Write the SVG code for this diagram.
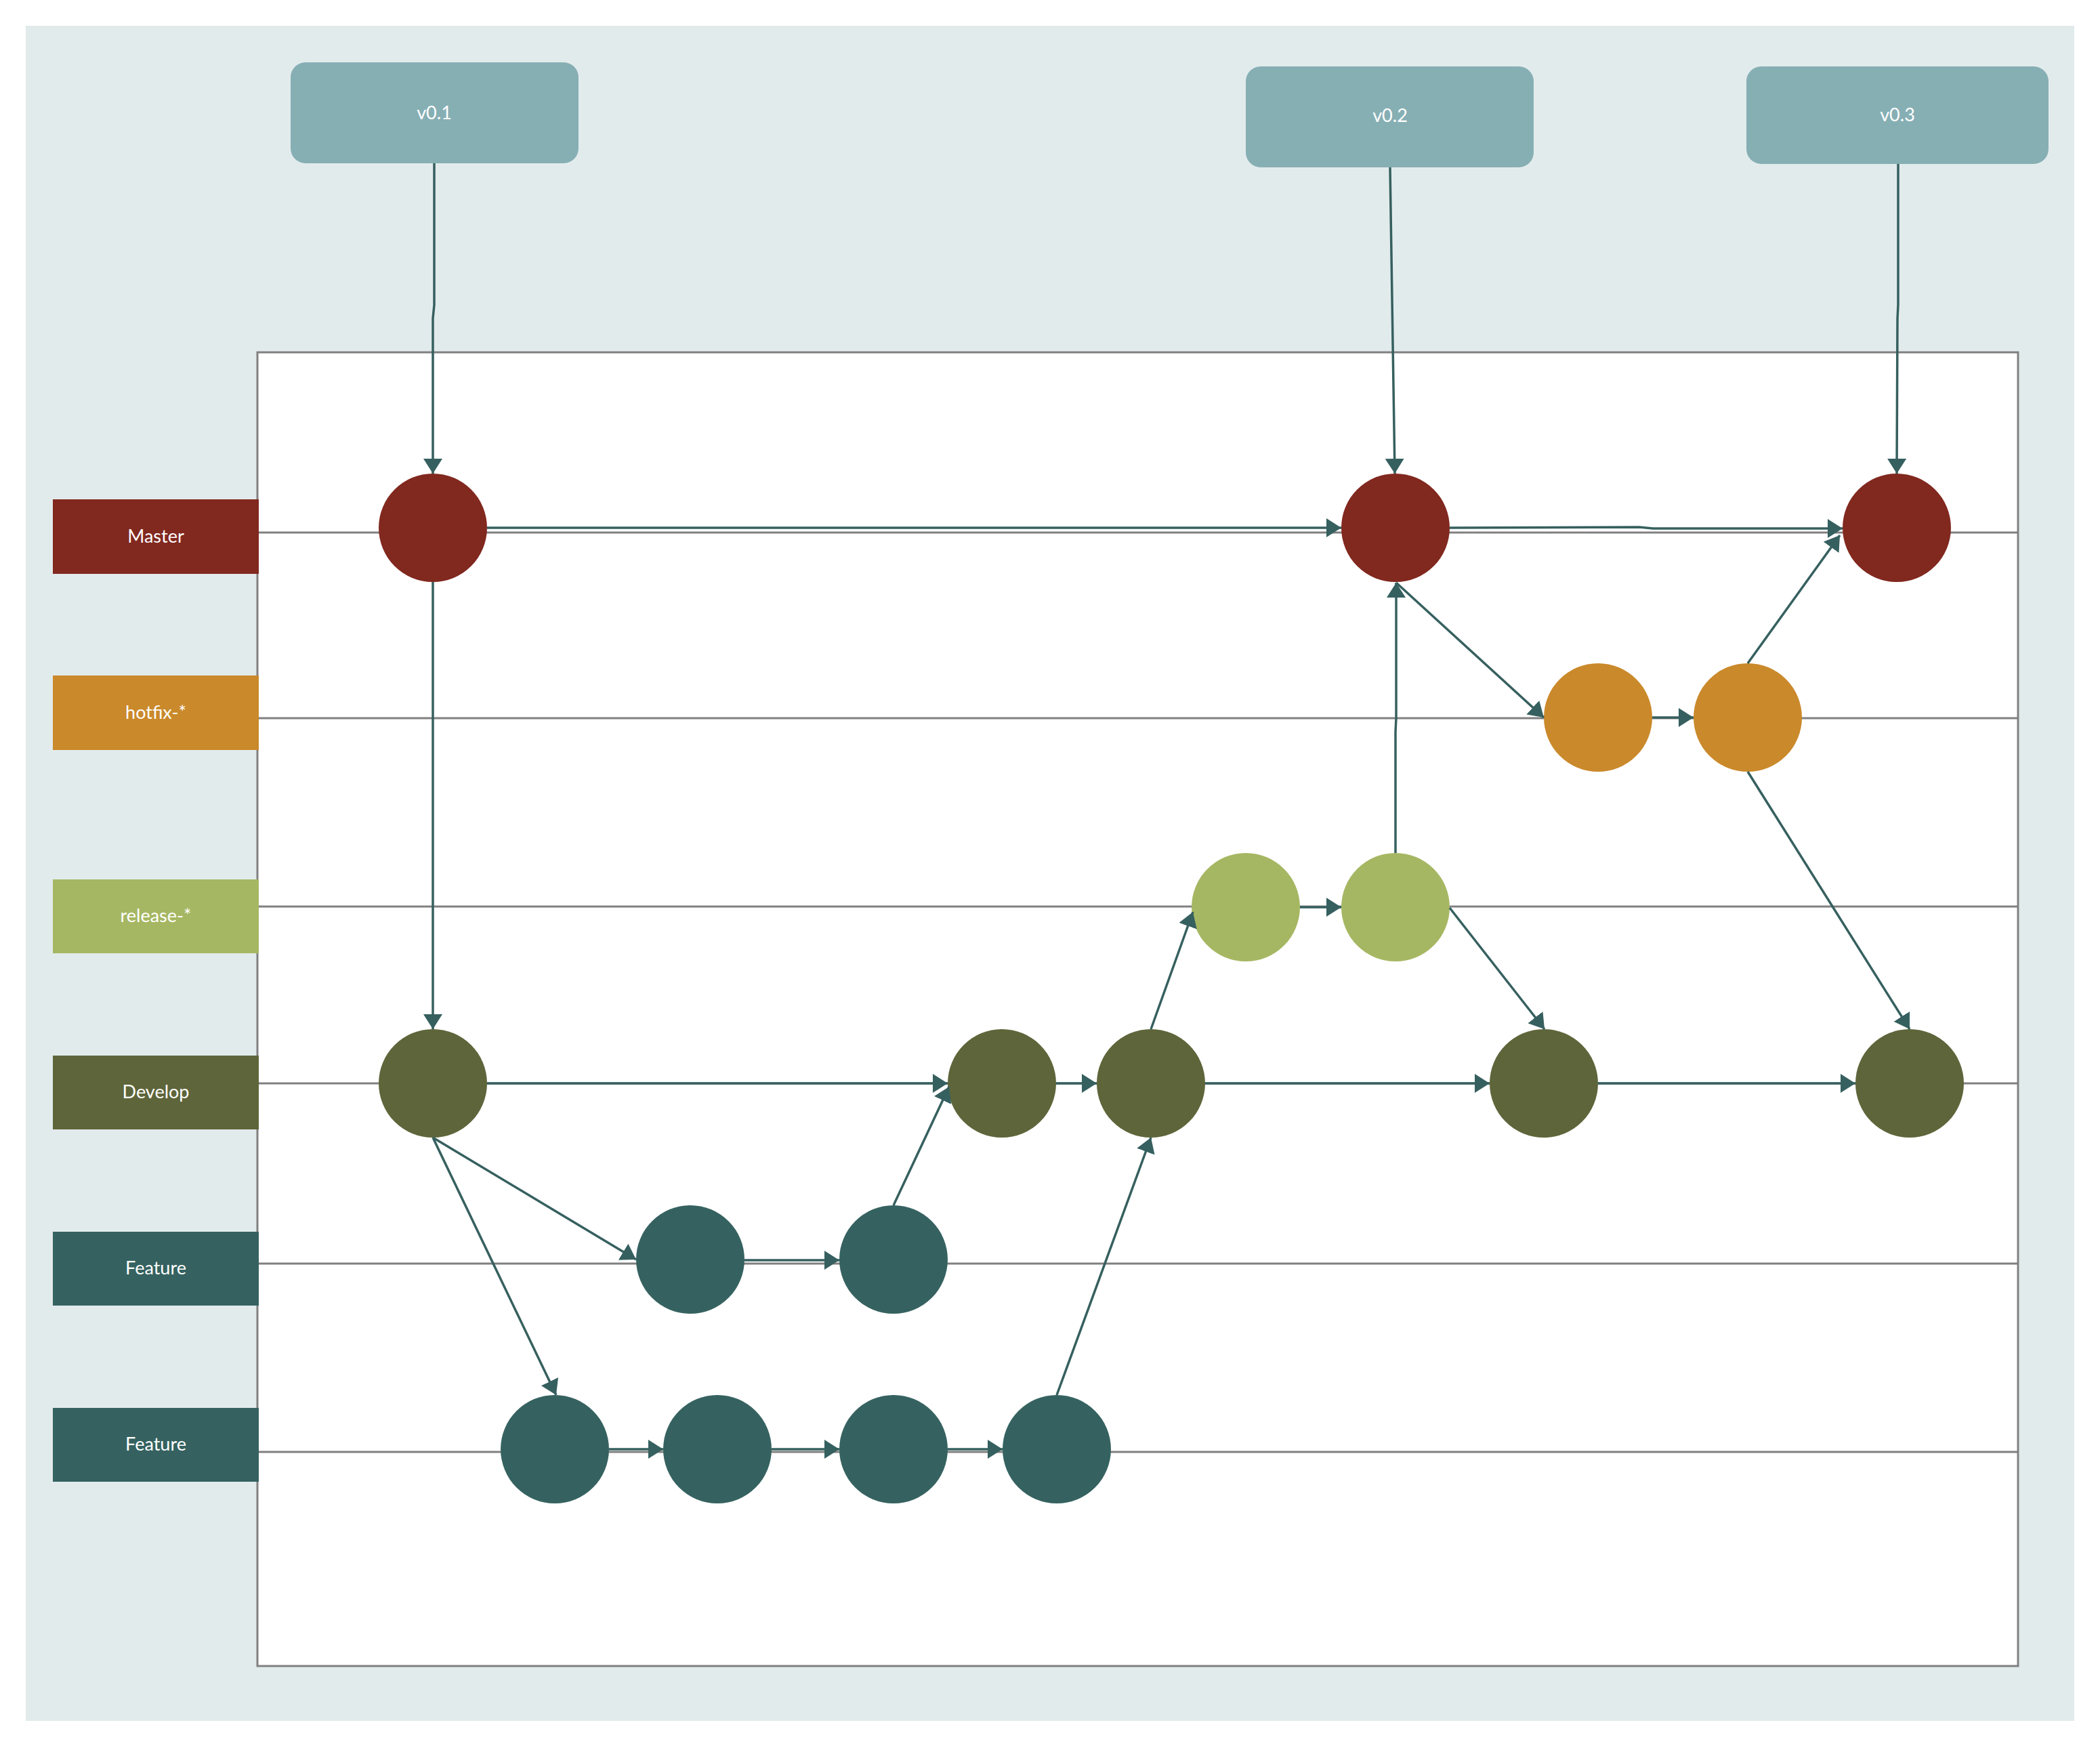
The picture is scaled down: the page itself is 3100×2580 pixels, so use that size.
<svg xmlns="http://www.w3.org/2000/svg" width="3100" height="2580" viewBox="0 0 3100 2580">
<defs>
<style>
.lane{stroke:#808080;stroke-width:3;fill:none}
.lbl{font-family:Lato,"Open Sans","Liberation Sans",sans-serif;font-size:27px;fill:#ffffff;text-anchor:middle;dominant-baseline:central}
.ver{fill:#86AFB4}
.c{stroke:#36605F;stroke-width:3.5;fill:none;marker-end:url(#arr)}
.m{fill:#81281F}.h{fill:#CA892B}.r{fill:#A6B763}.d{fill:#5E653A}.f{fill:#356260}
</style>
<marker id="arr" viewBox="0 0 22 28" refX="22" refY="14" markerWidth="22" markerHeight="28" markerUnits="userSpaceOnUse" orient="auto">
<path d="M0,0 L22,14 L0,28 Z" fill="#36605F"/>
</marker>
</defs>
<rect x="0" y="0" width="3100" height="2580" fill="#ffffff"/>
<rect x="38" y="38" width="3024" height="2502" fill="#E2EBEC"/>
<rect x="380" y="520" width="2599" height="1939" fill="#ffffff" stroke="#808080" stroke-width="3"/>
<g id="lanes">
<line class="lane" x1="380" y1="786" x2="2979" y2="786"/>
<line class="lane" x1="380" y1="1060" x2="2979" y2="1060"/>
<line class="lane" x1="380" y1="1338" x2="2979" y2="1338"/>
<line class="lane" x1="380" y1="1599" x2="2979" y2="1599"/>
<line class="lane" x1="380" y1="1865" x2="2979" y2="1865"/>
<line class="lane" x1="380" y1="2143" x2="2979" y2="2143"/>
</g>
<g id="label-master"><rect x="78" y="737" width="304" height="110" fill="#81281F"/><text class="lbl" x="230" y="790">Master</text></g>
<g id="label-hotfix"><rect x="78" y="997" width="304" height="110" fill="#CA892B"/><text class="lbl" x="230" y="1050">hotfix-*</text></g>
<g id="label-release"><rect x="78" y="1298" width="304" height="109" fill="#A6B763"/><text class="lbl" x="230" y="1350">release-*</text></g>
<g id="label-develop"><rect x="78" y="1558" width="304" height="109" fill="#5E653A"/><text class="lbl" x="230" y="1610">Develop</text></g>
<g id="label-feature1"><rect x="78" y="1818" width="304" height="109" fill="#356260"/><text class="lbl" x="230" y="1870">Feature</text></g>
<g id="label-feature2"><rect x="78" y="2078" width="304" height="109" fill="#356260"/><text class="lbl" x="230" y="2130">Feature</text></g>
<g id="v01"><rect class="ver" x="429" y="92" width="425" height="149" rx="22"/><text class="lbl" x="641" y="165">v0.1</text></g>
<g id="v02"><rect class="ver" x="1839" y="98" width="425" height="149" rx="22"/><text class="lbl" x="2052" y="169">v0.2</text></g>
<g id="v03"><rect class="ver" x="2578" y="98" width="446" height="144" rx="22"/><text class="lbl" x="2801" y="168">v0.3</text></g>
<g id="m1"><circle class="m" cx="639" cy="779" r="80"/></g>
<g id="m2"><circle class="m" cx="2060" cy="779" r="80"/></g>
<g id="m3"><circle class="m" cx="2800" cy="779" r="80"/></g>
<g id="h1"><circle class="h" cx="2359" cy="1059" r="80"/></g>
<g id="h2"><circle class="h" cx="2580" cy="1059" r="80"/></g>
<g id="r1"><circle class="r" cx="1839" cy="1339" r="80"/></g>
<g id="r2"><circle class="r" cx="2060" cy="1339" r="80"/></g>
<g id="d1"><circle class="d" cx="639" cy="1599" r="80"/></g>
<g id="d2"><circle class="d" cx="1479" cy="1599" r="80"/></g>
<g id="d3"><circle class="d" cx="1699" cy="1599" r="80"/></g>
<g id="d4"><circle class="d" cx="2279" cy="1599" r="80"/></g>
<g id="d5"><circle class="d" cx="2819" cy="1599" r="80"/></g>
<g id="fa1"><circle class="f" cx="1019" cy="1859" r="80"/></g>
<g id="fa2"><circle class="f" cx="1319" cy="1859" r="80"/></g>
<g id="fb1"><circle class="f" cx="819" cy="2139" r="80"/></g>
<g id="fb2"><circle class="f" cx="1059" cy="2139" r="80"/></g>
<g id="fb3"><circle class="f" cx="1319" cy="2139" r="80"/></g>
<g id="fb4"><circle class="f" cx="1560" cy="2139" r="80"/></g>
<g id="connectors">
<path class="c" d="M641,241 L641,450 L639,470 L639,699"/>
<path class="c" d="M2052,247 L2059,699"/>
<path class="c" d="M2802,242 L2802,450 L2801,470 L2800,699"/>
<path class="c" d="M719,779 L1980,779"/>
<path class="c" d="M2140,779 L2420,778 L2440,780 L2720,780"/>
<path class="c" d="M639,859 L639,1519"/>
<path class="c" d="M2061,860 L2279,1059"/>
<path class="c" d="M2439,1059 L2500,1059"/>
<path class="c" d="M2580,979 L2716,790"/>
<path class="c" d="M2580,1139 L2819,1519"/>
<path class="c" d="M2060,1259 L2060,1080 L2061,1060 L2061,860"/>
<path class="c" d="M1919,1339 L1980,1339"/>
<path class="c" d="M2140,1340 L2280,1519"/>
<path class="c" d="M1699,1519 L1761,1346"/>
<path class="c" d="M719,1599 L1399,1599"/>
<path class="c" d="M1559,1599 L1619,1599"/>
<path class="c" d="M1779,1599 L2199,1599"/>
<path class="c" d="M2359,1599 L2739,1599"/>
<path class="c" d="M639,1679 L939,1859"/>
<path class="c" d="M639,1679 L821,2059"/>
<path class="c" d="M1099,1860 L1239,1860"/>
<path class="c" d="M1319,1779 L1401,1604"/>
<path class="c" d="M899,2139 L979,2139"/>
<path class="c" d="M1139,2139 L1239,2139"/>
<path class="c" d="M1399,2139 L1480,2139"/>
<path class="c" d="M1560,2059 L1699,1679"/>
</g>
</svg>
